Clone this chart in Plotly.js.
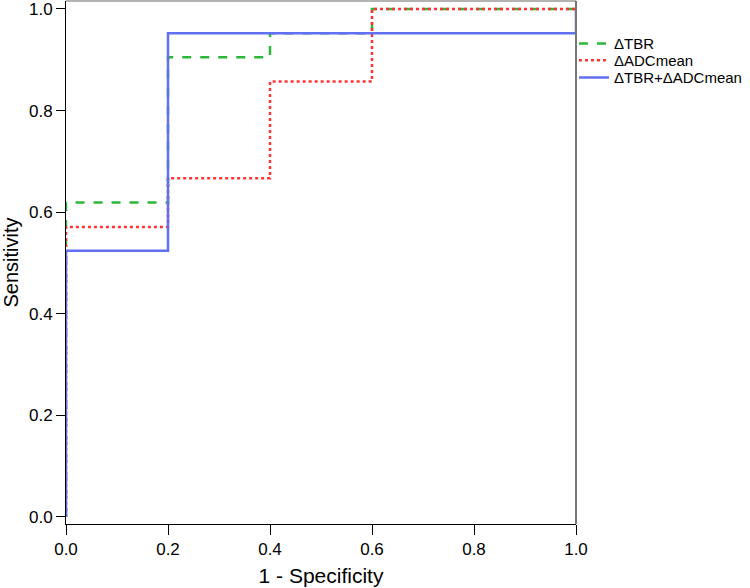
<!DOCTYPE html>
<html>
<head>
<meta charset="utf-8">
<script src="https://cdn.plot.ly/plotly-3.0.1.min.js"></script>
<style>html,body{margin:0;padding:0;background:#fff;}#chart{width:750px;height:588px;}</style>
</head>
<body>
<div id="chart"></div>
<script>
// ROC curve points (1 - specificity, sensitivity)
const tbrFpr = [0, 0, 0.2, 0.2, 0.4, 0.4, 0.6, 0.6, 1.0];
const tbrTpr = [0, 0.619, 0.619, 0.905, 0.905, 0.952, 0.952, 1.0, 1.0];

const adcFpr = [0, 0, 0.2, 0.2, 0.4, 0.4, 0.6, 0.6, 1.0];
const adcTpr = [0, 0.571, 0.571, 0.667, 0.667, 0.857, 0.857, 1.0, 1.0];

const combFpr = [0, 0, 0.2, 0.2, 1.0, 1.0];
const combTpr = [0, 0.524, 0.524, 0.952, 0.952, 1.0];

const seriesNames = ["ΔTBR", "ΔADCmean", "ΔTBR+ΔADCmean"];
const tickVals = [0, 0.2, 0.4, 0.6, 0.8, 1.0];
const tickText = ["0.0", "0.2", "0.4", "0.6", "0.8", "1.0"];

const FONT = "Liberation Sans, Arial, sans-serif";

const traces = [
  {x: tbrFpr, y: tbrTpr, name: seriesNames[0], mode: "lines", legend: "legend",
   line: {color: "#2bb83a", width: 2.5, dash: "dash"}},
  {x: adcFpr, y: adcTpr, name: seriesNames[1], mode: "lines", legend: "legend2",
   line: {color: "#ff3333", width: 2.5, dash: "dot"}},
  {x: combFpr, y: combTpr, name: seriesNames[2], mode: "lines", legend: "legend3",
   line: {color: "#6170f0", width: 2.5}}
];

function leg(y) {
  return {x: 0.996, y: y, xanchor: "left", yanchor: "top",
          font: {family: FONT, size: 15, color: "#000"},
          bgcolor: "rgba(0,0,0,0)", itemwidth: 30};
}

const layout = {
  width: 750, height: 588,
  margin: {l: 66, r: 174, t: 1, b: 64, autoexpand: false},
  paper_bgcolor: "#fff", plot_bgcolor: "#fff",
  font: {family: FONT, color: "#000"},
  showlegend: true,
  legend: leg(0.950),
  legend2: leg(0.918),
  legend3: leg(0.885),
  xaxis: {range: [0, 1], tickvals: tickVals, ticktext: tickText,
          showgrid: false, zeroline: false, showline: true, linecolor: "#000", linewidth: 1,
          ticks: "outside", ticklen: 10, tickcolor: "#000", tickwidth: 1,
          ticklabeloverflow: "allow",
          tickfont: {family: FONT, size: 17, color: "#000"},
          title: {text: "1 - Specificity", font: {family: FONT, size: 21, color: "#000"}, standoff: 9}},
  yaxis: {range: [-0.0138, 1.0157], tickvals: tickVals, ticktext: tickText,
          showgrid: false, zeroline: false, showline: true, linecolor: "#000", linewidth: 1,
          ticks: "outside", ticklen: 9, tickcolor: "#000", tickwidth: 1,
          ticklabeloverflow: "allow",
          tickfont: {family: FONT, size: 17, color: "#000"},
          title: {text: "Sensitivity", font: {family: FONT, size: 20, color: "#000"}, standoff: 5}},
  shapes: [
    {type: "line", xref: "paper", yref: "paper", x0: 0, x1: 1, y0: 1, y1: 1,
     line: {color: "#666", width: 1}},
    {type: "line", xref: "paper", yref: "paper", x0: 1, x1: 1, y0: 0, y1: 1,
     line: {color: "#777", width: 2}}
  ]
};

Plotly.newPlot("chart", traces, layout, {displayModeBar: false, staticPlot: true});
</script>
</body>
</html>
